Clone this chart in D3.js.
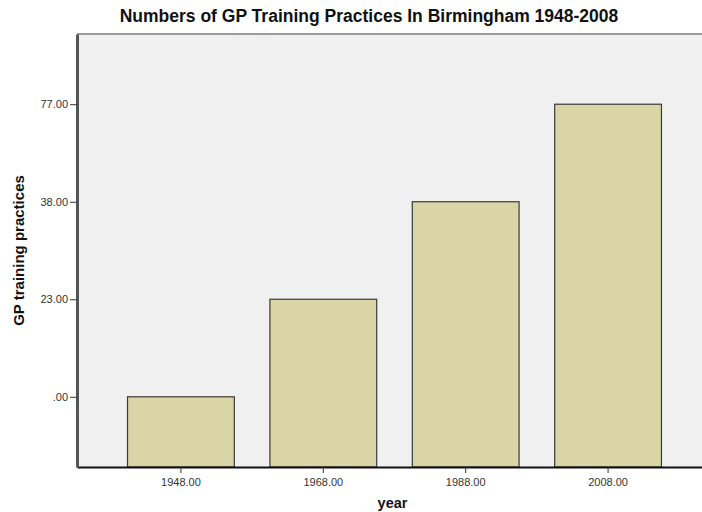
<!DOCTYPE html>
<html>
<head>
<meta charset="utf-8">
<script src="https://cdn.jsdelivr.net/npm/d3@7"></script>
<style>
  body { margin: 0; background: #fff; }
  svg { display: block; font-family: "Liberation Sans", Arial, sans-serif; }
</style>
</head>
<body>
<div id="chart"></div>
<script>
// Data (SPSS treats both axes as categories)
var years = ["1948.00", "1968.00", "1988.00", "2008.00"];
var counts = [".00", "23.00", "38.00", "77.00"];
var yTickLabels = [".00", "23.00", "38.00", "77.00"];

var width = 702,
    height = 512,
    margin = {top: 34, right: -10, bottom: 45, left: 77},
    innerW = width - margin.left - margin.right,
    innerH = height - margin.top - margin.bottom;

var svg = d3.select("#chart").append("svg")
    .attr("width", width)
    .attr("height", height);

// Title
svg.append("text")
  .attr("x", 369)
  .attr("y", 22)
  .attr("text-anchor", "middle")
  .style("font-size", "17.5px")
  .style("font-weight", "bold")
  .style("fill", "#111")
  .text("Numbers of GP Training Practices In Birmingham 1948-2008");

var g = svg.append("g")
  .attr("transform", "translate(" + margin.left + "," + margin.top + ")");

var x = d3.scaleBand()
  .domain(years)
  .range([0, innerW])
  .paddingInner(0.25)
  .paddingOuter(0.355);

var y = d3.scalePoint()
  .domain(yTickLabels)
  .range([innerH, 0])
  .padding(0.72);

// Plot background
g.append("rect")
  .attr("width", innerW)
  .attr("height", innerH)
  .attr("fill", "#f0f0f0");

// Top frame line
g.append("line")
  .attr("x1", 0).attr("x2", innerW)
  .attr("y1", 0).attr("y2", 0)
  .attr("stroke", "#9a9a9a")
  .attr("stroke-width", 2);

// Bars
g.selectAll("rect.bar")
  .data(years)
  .enter().append("rect")
    .attr("class", "bar")
    .attr("x", function(d) { return x(d); })
    .attr("width", x.bandwidth())
    .attr("y", function(d, i) { return y(counts[i]); })
    .attr("height", function(d, i) { return innerH - y(counts[i]); })
    .attr("fill", "#d9d5a6")
    .attr("stroke", "#3a3a3a")
    .attr("stroke-width", 1.2);

// X axis
var xAxis = g.append("g")
  .attr("transform", "translate(0," + innerH + ")")
  .call(d3.axisBottom(x).tickSize(6).tickSizeOuter(0));
xAxis.select(".domain").attr("stroke", "#111").attr("stroke-width", 2);
xAxis.selectAll(".tick line").attr("stroke", "#333");
xAxis.selectAll("text")
  .attr("dy", "0.9em")
  .style("font-size", "11px")
  .style("fill", "#333")
  .style("font-family", "Liberation Sans, Arial, sans-serif");

// Y axis
var yAxis = g.append("g")
  .call(d3.axisLeft(y).tickSize(7).tickSizeOuter(0).tickPadding(2));
yAxis.select(".domain").attr("stroke", "#555").attr("stroke-width", 3);
yAxis.selectAll(".tick line").attr("stroke", "#333");
yAxis.selectAll("text")
  .style("font-size", "11px")
  .style("fill", "#333")
  .style("font-family", "Liberation Sans, Arial, sans-serif");

// Axis titles
svg.append("text")
  .attr("x", margin.left + innerW / 2 - 2)
  .attr("y", 508)
  .attr("text-anchor", "middle")
  .style("font-size", "14.5px")
  .style("font-weight", "bold")
  .style("fill", "#111")
  .text("year");

svg.append("text")
  .attr("transform", "translate(24," + (margin.top + innerH / 2) + ") rotate(-90)")
  .attr("text-anchor", "middle")
  .style("font-size", "15px")
  .style("font-weight", "bold")
  .style("fill", "#111")
  .text("GP training practices");
</script>
</body>
</html>
